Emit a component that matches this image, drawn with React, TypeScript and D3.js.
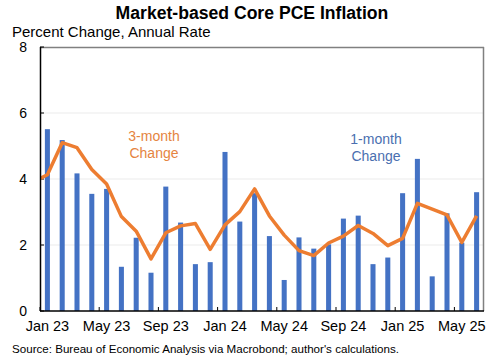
import React from "react";
import * as d3 from "d3";

// Monthly core market-based PCE, percent change at annual rate
const MONTHS = [
  "Jan 23", "Feb 23", "Mar 23", "Apr 23", "May 23", "Jun 23",
  "Jul 23", "Aug 23", "Sep 23", "Oct 23", "Nov 23", "Dec 23",
  "Jan 24", "Feb 24", "Mar 24", "Apr 24", "May 24", "Jun 24",
  "Jul 24", "Aug 24", "Sep 24", "Oct 24", "Nov 24", "Dec 24",
  "Jan 25", "Feb 25", "Mar 25", "Apr 25", "May 25", "Jun 25",
];
const ONE_MONTH = [
  5.51, 5.18, 4.17, 3.55, 3.7, 1.34, 2.22, 1.16, 3.77, 2.68, 1.42, 1.48,
  4.82, 2.71, 3.57, 2.27, 0.94, 2.23, 1.89, 2.02, 2.8, 2.89, 1.42, 1.62,
  3.57, 4.61, 1.05, 2.96, 2.07, 3.6,
];
const THREE_MONTH = [
  4.13, 5.1, 4.95, 4.29, 3.85, 2.86, 2.42, 1.58, 2.37, 2.58, 2.65, 1.87,
  2.61, 3.01, 3.7, 2.88, 2.3, 1.83, 1.68, 2.06, 2.27, 2.59, 2.35, 1.98,
  2.2, 3.26, 3.09, 2.91, 2.08, 2.88,
];
// Dec 22 value: the line enters the plot from the left edge
const THREE_MONTH_PRIOR = 3.9;
const X_TICKS = ["Jan 23", "May 23", "Sep 23", "Jan 24", "May 24", "Sep 24", "Jan 25", "May 25"];
const Y_TICKS = [0, 2, 4, 6, 8];

const W = 504;
const H = 360;
const M = { top: 47, right: 20, bottom: 49, left: 40 };
const FONT = "'Liberation Sans', Arial, sans-serif";
const BLUE = "#4472c4";
const ORANGE = "#ed7d31";

export default function App() {
  const iW = W - M.left - M.right;
  const iH = H - M.top - M.bottom;

  const x = d3.scaleBand<string>().domain(MONTHS).range([0, iW]).paddingInner(0.66).paddingOuter(0.33);
  const step = x.step();
  const cx = (m: string) => (x(m) ?? 0) + x.bandwidth() / 2;
  const y = d3.scaleLinear().domain([0, 8]).range([iH, 0]);

  const pts: [number, number][] = [
    [cx(MONTHS[0]) - step, THREE_MONTH_PRIOR],
    ...THREE_MONTH.map((v, i) => [cx(MONTHS[i]), v] as [number, number]),
  ];
  const linePath =
    d3
      .line<[number, number]>()
      .x((d) => d[0])
      .y((d) => y(d[1]))(pts) ?? "";

  // band start for each labelled month
  const bandStart = (m: string) => cx(m) - step / 2;

  return (
    <div style={{ position: "fixed", left: 0, top: 0 }}>
      <svg width={W} height={H} style={{ display: "block", background: "#fff" }}>
        <defs>
          <clipPath id="plot">
            <rect x={0} y={-5} width={iW} height={iH + 5} />
          </clipPath>
        </defs>
        <text x={252} y={19} textAnchor="middle" fontFamily={FONT} fontWeight="bold" fontSize={17.6} fill="#000">
          Market-based Core PCE Inflation
        </text>
        <text x={12} y={37} fontFamily={FONT} fontSize={15} fill="#000">
          Percent Change, Annual Rate
        </text>

        <g transform={`translate(${M.left},${M.top})`}>
          {/* gridlines */}
          {Y_TICKS.filter((t) => t > 0 && t < 8).map((t) => (
            <line key={t} x1={0} x2={iW} y1={y(t)} y2={y(t)} stroke="#ebebeb" strokeWidth={1} />
          ))}
          {/* top and right frame */}
          <line x1={0} x2={iW} y1={0.5} y2={0.5} stroke="#808080" strokeWidth={1.5} />
          <line x1={iW - 0.5} x2={iW - 0.5} y1={0} y2={iH} stroke="#808080" strokeWidth={1.5} />

          {/* y labels + ticks */}
          {Y_TICKS.map((t) => (
            <g key={t}>
              <line x1={0} x2={4} y1={y(t)} y2={y(t)} stroke="#000" />
              <text x={-13} y={y(t)} dy="0.36em" textAnchor="end" fontFamily={FONT} fontSize={14} fill="#000">
                {t}
              </text>
            </g>
          ))}

          {/* bars */}
          {ONE_MONTH.map((v, i) => (
            <rect
              key={MONTHS[i]}
              x={x(MONTHS[i])}
              y={y(v)}
              width={x.bandwidth()}
              height={iH - y(v)}
              fill={BLUE}
            />
          ))}

          {/* 3-month line */}
          <path
            d={linePath}
            fill="none"
            stroke={ORANGE}
            strokeWidth={3.5}
            strokeLinejoin="round"
            clipPath="url(#plot)"
          />

          {/* axes */}
          <line x1={0.5} x2={0.5} y1={0} y2={iH} stroke="#000" strokeWidth={1.5} />
          <line x1={0} x2={iW} y1={iH} y2={iH} stroke="#000" strokeWidth={1.5} />
          {X_TICKS.map((m) => (
            <g key={m}>
              <line x1={bandStart(m)} x2={bandStart(m)} y1={iH} y2={iH - 4} stroke="#000" />
              <text x={cx(m)} y={iH + 20} textAnchor="middle" fontFamily={FONT} fontSize={14.5} fill="#000">
                {m}
              </text>
            </g>
          ))}

          {/* series labels */}
          <text textAnchor="middle" fontFamily={FONT} fontSize={14} fill="#e5843f">
            <tspan x={114} y={94}>3-month</tspan>
            <tspan x={114} y={111}>Change</tspan>
          </text>
          <text textAnchor="middle" fontFamily={FONT} fontSize={14} fill="#4a6fb0">
            <tspan x={336} y={97}>1-month</tspan>
            <tspan x={336} y={114}>Change</tspan>
          </text>
        </g>

        <text x={12} y={353} fontFamily={FONT} fontSize={11.6} fill="#000">
          Source: Bureau of Economic Analysis via Macrobond; author's calculations.
        </text>
      </svg>
    </div>
  );
}
